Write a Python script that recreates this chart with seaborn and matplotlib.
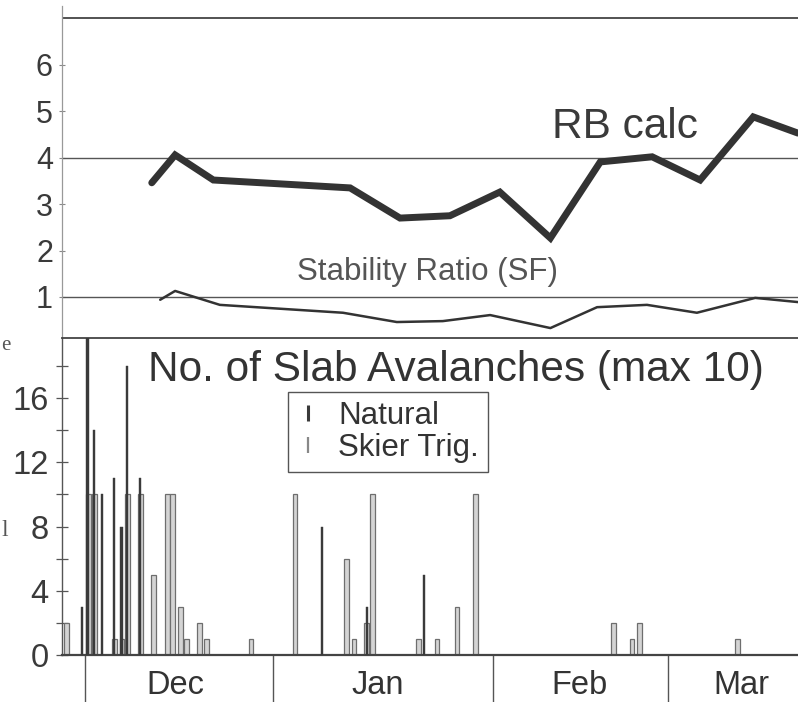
import numpy as np
import pandas as pd
import matplotlib
matplotlib.use("Agg")
import matplotlib.pyplot as plt
import seaborn as sns
from matplotlib.lines import Line2D
from matplotlib.ticker import FixedLocator, NullFormatter

# ---------------- data (x = day index, 0 = start of Dec) ----------------
rb_day = [10.3, 13.9, 19.8, 40.9, 48.6, 56.3, 64.0, 71.8, 79.5, 87.5, 94.9, 103.1, 110.0]
rb_val = [3.46, 4.06, 3.52, 3.35, 2.70, 2.75, 3.26, 2.27, 3.91, 4.02, 3.52, 4.88, 4.53]

sf_day = [11.6, 13.9, 20.8, 39.8, 48.1, 55.2, 62.5, 71.8, 79.0, 86.7, 94.4, 103.4, 110.0]
sf_val = [0.94, 1.13, 0.83, 0.66, 0.46, 0.48, 0.61, 0.33, 0.78, 0.83, 0.66, 0.98, 0.89]

nat_day = [-0.5, 0.35, 1.4, 2.6, 4.5, 5.6, 6.5, 8.5, 36.6, 43.5, 52.3]
nat_val = [3, 20.5, 14, 10, 11, 8, 18, 11, 8, 3, 5]

ski_day = [-2.8, 0.5, 1.5, 4.6, 5.7, 6.6, 8.5, 10.6, 12.7, 13.5, 14.7, 15.7, 17.6, 18.7,
           25.6, 32.4, 40.4, 41.5, 43.4, 44.4, 51.4, 54.3, 57.4, 60.3, 81.5, 84.4, 85.5, 100.6]
ski_val = [2, 10, 10, 1, 1, 10, 10, 5, 10, 10, 3, 1, 2, 1,
           1, 10, 6, 1, 2, 10, 1, 1, 3, 10, 2, 1, 2, 1]

top_ticks = [1, 2, 3, 4, 5, 6]
bot_major = [0, 4, 8, 12, 16]
bot_minor = [2, 6, 10, 14, 18]
month_sep = [0, 29, 63, 90]
month_pos = [14.0, 45.1, 76.3, 101.2]
month_lab = ["Dec", "Jan", "Feb", "Mar"]

# ---------------- style ----------------
sns.set_theme(style="white")
plt.rcParams["font.family"] = ["Liberation Sans", "DejaVu Sans"]

W, H = 798, 702
fig = plt.figure(figsize=(W / 100, H / 100), dpi=100)

def fx(px):
    return px / W

def fy(py):
    return 1 - py / H

ax_top = fig.add_axes([fx(62), fy(338), 1 - fx(62), fy(5.5) - fy(338)])
ax_bot = fig.add_axes([fx(62), fy(655), 1 - fx(62), fy(338) - fy(655)])

xlim = (-3.55, 110.0)
dark = "#333333"
grid_c = "#555555"

# ---------------- top panel ----------------
rb = pd.DataFrame({"day": rb_day, "val": rb_val})
sf = pd.DataFrame({"day": sf_day, "val": sf_val})
for yv, lw in [(1, 1.0), (4, 1.0), (7, 1.3)]:
    ax_top.axhline(yv, color=grid_c if yv != 7 else "#444444", lw=lw, zorder=1)
sns.lineplot(data=rb, x="day", y="val", ax=ax_top, color=dark, lw=5.0,
             solid_joinstyle="miter", zorder=3)
sns.lineplot(data=sf, x="day", y="val", ax=ax_top, color=dark, lw=1.8, zorder=3)

ax_top.set_xlim(*xlim)
ax_top.set_ylim(0.116, 7.28)
ax_top.set_yticks(top_ticks)
ax_top.set_yticklabels([str(t) for t in top_ticks])
ax_top.tick_params(axis="y", left=True, direction="inout", length=5, width=0.8,
                   color="#888888", labelsize=22, labelcolor="#3a3a3a", pad=4)
ax_top.set_xticks([])
ax_top.set_xlabel("")
ax_top.set_ylabel("")
for s in ["top", "right", "bottom"]:
    ax_top.spines[s].set_visible(False)
ax_top.spines["left"].set_color("#999999")
ax_top.spines["left"].set_linewidth(0.9)

ax_top.text(83.3, 4.66, "RB calc", ha="center", va="center", fontsize=30.5, color="#3a3a3a")
ax_top.text(52.8, 1.54, "Stability Ratio (SF)", ha="center", va="center",
            fontsize=22.5, color="#555555")

# ---------------- bottom panel ----------------
ax_bot.bar(ski_day, ski_val, width=0.75, color="#d4d4d4", edgecolor="#6e6e6e",
           linewidth=0.9, zorder=2)
ax_bot.bar(nat_day, nat_val, width=0.38, color="#3a3a3a", edgecolor="#3a3a3a",
           linewidth=0.3, zorder=3)

ax_bot.set_xlim(*xlim)
ax_bot.set_ylim(0, 19.74)
ax_bot.set_yticks(bot_major)
ax_bot.set_yticklabels([str(t) for t in bot_major])
ax_bot.yaxis.set_minor_locator(FixedLocator(bot_minor))
ax_bot.tick_params(axis="y", which="both", left=True, direction="inout", length=9,
                   width=0.9, color="#555555", labelsize=23.5, labelcolor="#3a3a3a", pad=5)

ax_bot.set_xticks(month_sep)
ax_bot.set_xticklabels([""] * len(month_sep))
ax_bot.xaxis.set_minor_locator(FixedLocator(month_pos))
ax_bot.set_xticks(month_pos, minor=True)
ax_bot.set_xticklabels(month_lab, minor=True)
ax_bot.tick_params(axis="x", which="major", bottom=True, direction="out", length=34,
                   width=1.0, color="#555555")
ax_bot.tick_params(axis="x", which="minor", bottom=True, length=0, pad=11,
                   labelsize=23.5, labelcolor="#333333")
ax_bot.set_xlabel("")
ax_bot.set_ylabel("")
ax_bot.spines["right"].set_visible(False)
ax_bot.spines["top"].set_color("#444444")
ax_bot.spines["top"].set_linewidth(1.3)
ax_bot.spines["left"].set_color("#555555")
ax_bot.spines["left"].set_linewidth(1.0)
ax_bot.spines["bottom"].set_color("#444444")
ax_bot.spines["bottom"].set_linewidth(1.6)

ax_bot.text(57.3, 17.75, "No. of Slab Avalanches (max 10)", ha="center", va="center",
            fontsize=30.5, color="#333333")

handles = [
    Line2D([], [], marker="|", linestyle="None", markersize=11, markeredgewidth=2.2,
           color="#3a3a3a"),
    Line2D([], [], marker="|", linestyle="None", markersize=11, markeredgewidth=1.6,
           color="#888888"),
]
leg = ax_bot.legend(handles, ["Natural", "Skier Trig."], loc="upper left",
                    bbox_to_anchor=(fx(288), fy(392)), bbox_transform=fig.transFigure,
                    fontsize=22.5, frameon=True, fancybox=False, framealpha=1,
                    handlelength=0.7, handletextpad=0.6, labelspacing=0.05,
                    borderpad=0.3, borderaxespad=0)
leg.get_frame().set_edgecolor("#555555")
leg.get_frame().set_linewidth(1.0)
for t in leg.get_texts():
    t.set_color("#333333")

# cropped remnants of an axis label at the left edge
fig.text(fx(1), fy(345), "e", fontsize=15, color="#555555", va="center", ha="left",
         family=["Liberation Serif", "DejaVu Serif"])
fig.text(fx(1), fy(530), "l", fontsize=17, color="#555555", va="center", ha="left",
         family=["Liberation Serif", "DejaVu Serif"])

fig.savefig("out.png", dpi=100)
